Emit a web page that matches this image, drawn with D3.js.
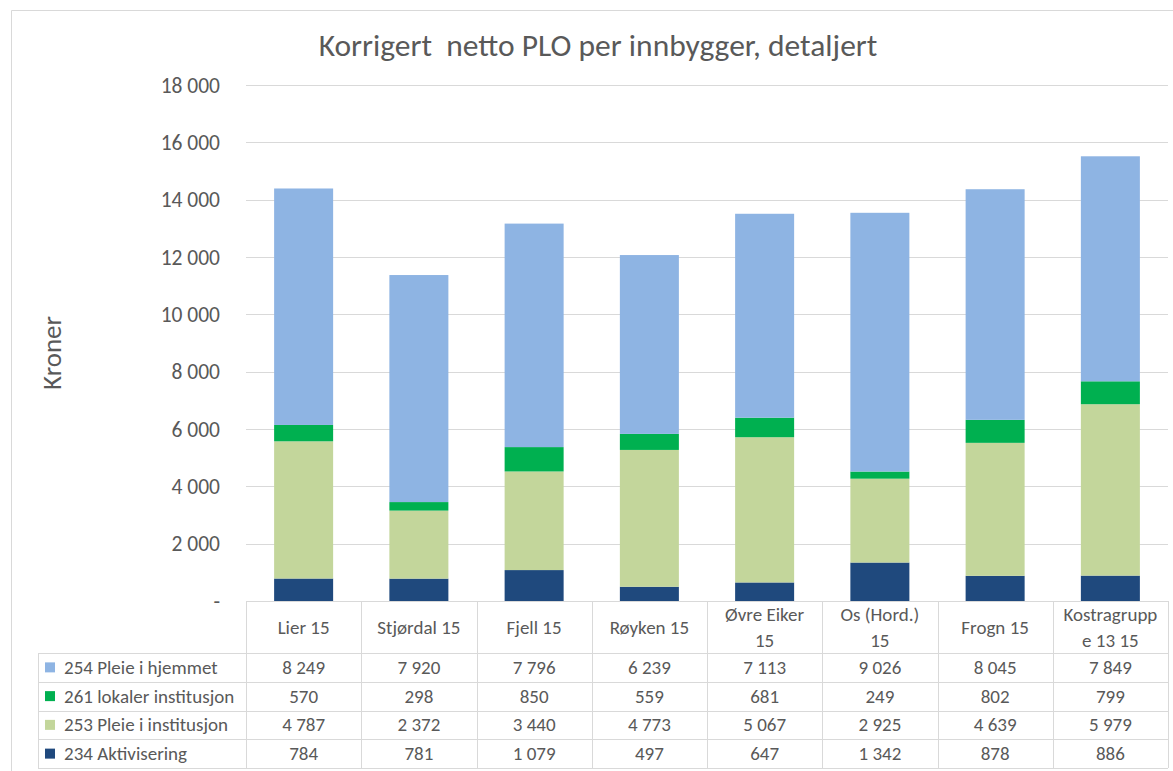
<!DOCTYPE html>
<html><head><meta charset="utf-8">
<script src="https://cdn.jsdelivr.net/npm/d3@7"></script>
<style>
html,body{margin:0;padding:0;background:#fff;}
svg text{font-family:Carlito, Calibri, Lato, sans-serif;fill:#595959;}
</style></head>
<body><svg id="c" width="1173" height="771"></svg>
<script>
const categories = ["Lier 15","Stjørdal 15","Fjell 15","Røyken 15","Øvre Eiker 15","Os (Hord.) 15","Frogn 15","Kostragruppe 13 15"];
const categoryLines = [["Lier 15"],["Stjørdal 15"],["Fjell 15"],["Røyken 15"],["Øvre Eiker","15"],["Os (Hord.)","15"],["Frogn 15"],["Kostragrupp","e 13 15"]];
const seriesNames = ["254 Pleie i hjemmet","261 lokaler institusjon","253 Pleie i institusjon","234 Aktivisering"];
const pleieHjemmet = [8249,7920,7796,6239,7113,9026,8045,7849];
const lokalerInst = [570,298,850,559,681,249,802,799];
const pleieInst = [4787,2372,3440,4773,5067,2925,4639,5979];
const aktivisering = [784,781,1079,497,647,1342,878,886];
const seriesColors = ["#8EB4E3","#00B050","#C3D69B","#1F497D"];
const yTicks = [0,2000,4000,6000,8000,10000,12000,14000,16000,18000];
const title = "Korrigert  netto PLO per innbygger, detaljert";
const yLabel = "Kroner";

const seriesValues = [pleieHjemmet, lokalerInst, pleieInst, aktivisering];
const svg = d3.select("#c");
const L = 246, R = 1168, T = 85, B = 601;
const x = d3.scaleBand().domain(categories).range([L,R]).paddingInner(0.488).paddingOuter(0.244);
const xb = d3.scaleBand().domain(categories).range([L,R]);
const y = d3.scaleLinear().domain([0,18000]).range([B,T]);
const fmt = v => v===0 ? "-" : d3.format(",")(v).replace(/,/g," ");

// outer border
svg.append("path").attr("d","M11.5,771 L11.5,10.5 L1173,10.5").attr("fill","none").attr("stroke","#d9d9d9").attr("stroke-width",1);

// title
svg.append("text").attr("x",598).attr("y",56).attr("text-anchor","middle").attr("font-size",31.5).style("white-space","pre").text(title);
// y label
svg.append("text").attr("transform","translate(61,353) rotate(-90)").attr("text-anchor","middle").attr("font-size",27).text(yLabel);

// grid
svg.append("g").selectAll("line").data(yTicks.filter(d=>d>0)).join("line")
 .attr("x1",L).attr("x2",R).attr("y1",d=>Math.round(y(d))+0.5).attr("y2",d=>Math.round(y(d))+0.5)
 .attr("stroke","#d9d9d9").attr("stroke-width",1);
// y tick labels
svg.append("g").selectAll("text").data(yTicks).join("text")
 .attr("x",220).attr("y",d=>y(d)+7.5).attr("text-anchor","end").attr("font-size",21.5).text(fmt);

// stacked bars
const rows = categories.map((c,i)=>({cat:c, a:aktivisering[i], p:pleieInst[i], l:lokalerInst[i], h:pleieHjemmet[i]}));
const stack = d3.stack().keys(["a","p","l","h"])(rows);
const keyColor = {a:seriesColors[3], p:seriesColors[2], l:seriesColors[1], h:seriesColors[0]};
svg.append("g").selectAll("g").data(stack).join("g").attr("fill",d=>keyColor[d.key])
 .selectAll("rect").data(d=>d).join("rect")
 .attr("x",d=>x(d.data.cat)).attr("width",x.bandwidth())
 .attr("y",d=>y(d[1])).attr("height",d=>y(d[0])-y(d[1]));

// data table
const gridC = "#d9d9d9";
const tL = 38, hdrB = 653, rowH = 28.75;
const tg = svg.append("g");
const edges = categories.map(c=>xb(c)).concat([R]);
edges.forEach(xx=>{
  tg.append("line").attr("x1",Math.round(xx)+0.5).attr("x2",Math.round(xx)+0.5).attr("y1",B).attr("y2",hdrB+rowH*4).attr("stroke",gridC);
});
tg.append("line").attr("x1",tL+0.5).attr("x2",tL+0.5).attr("y1",hdrB).attr("y2",hdrB+rowH*4).attr("stroke",gridC);
tg.append("line").attr("x1",L).attr("x2",R).attr("y1",B+0.5).attr("y2",B+0.5).attr("stroke",gridC);
for(let r=0;r<=4;r++){
  const yy = Math.round(hdrB+rowH*r)+0.5;
  tg.append("line").attr("x1",tL).attr("x2",R).attr("y1",yy).attr("y2",yy).attr("stroke",gridC);
}
categoryLines.forEach((lines,i)=>{
  const cx = xb(categories[i]) + xb.bandwidth()/2;
  const n = lines.length;
  lines.forEach((t,j)=>{
    tg.append("text").attr("x",cx).attr("y",(B+hdrB)/2 + 6.5 + (j-(n-1)/2)*26).attr("text-anchor","middle").attr("font-size",19).text(t);
  });
});
seriesNames.forEach((s,r)=>{
  const cy = hdrB + rowH*r + rowH/2;
  tg.append("rect").attr("x",45).attr("y",cy-5).attr("width",10).attr("height",10).attr("fill",seriesColors[r]);
  tg.append("text").attr("x",64).attr("y",cy+6.5).attr("font-size",19).text(s);
  seriesValues[r].forEach((v,i)=>{
    tg.append("text").attr("x",xb(categories[i])+xb.bandwidth()/2).attr("y",cy+6.5).attr("text-anchor","middle").attr("font-size",19).text(fmt(v));
  });
});
</script></body></html>
